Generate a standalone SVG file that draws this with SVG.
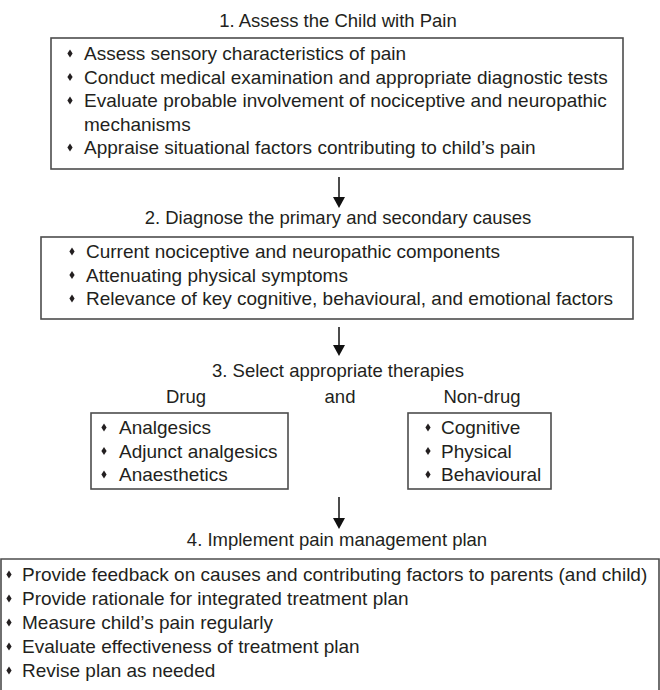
<svg xmlns="http://www.w3.org/2000/svg" xmlns:xlink="http://www.w3.org/1999/xlink" width="660" height="690" viewBox="0 0 660 690">
<defs>
<style>
text{font-family:"Liberation Sans",Arial,Helvetica,sans-serif;font-size:19px;fill:#231f20}
.t{text-anchor:middle;font-size:18.5px}
.box{fill:#fff;stroke:#4d4d4d;stroke-width:1.6}
.conn line{stroke:#111;stroke-width:1.5}
.conn path{fill:#111}
.b{fill:#231f20}
</style>
<path id="dia" d="M0,-4 L2.6,0 L0,4 L-2.6,0 Z"/>
</defs>
<rect width="660" height="690" fill="#fff"/>
<g id="step1">
<text class="t" x="338" y="27">1. Assess the Child with Pain</text>
<rect class="box" x="51" y="38" width="572" height="131"/>
<use class="b" xlink:href="#dia" x="70" y="53.5"/><text x="84" y="60">Assess sensory characteristics of pain</text>
<use class="b" xlink:href="#dia" x="70" y="77"/><text x="84" y="83.5">Conduct medical examination and appropriate diagnostic tests</text>
<use class="b" xlink:href="#dia" x="70" y="100.5"/><text x="84" y="107">Evaluate probable involvement of nociceptive and neuropathic</text>
<text x="84" y="130.5">mechanisms</text>
<use class="b" xlink:href="#dia" x="70" y="147.5"/><text x="84" y="154">Appraise situational factors contributing to child’s pain</text>
</g>
<g id="step2">
<text class="t" x="338" y="224">2. Diagnose the primary and secondary causes</text>
<rect class="box" x="41" y="237" width="592" height="82"/>
<use class="b" xlink:href="#dia" x="72" y="251.5"/><text x="86" y="258">Current nociceptive and neuropathic components</text>
<use class="b" xlink:href="#dia" x="72" y="275"/><text x="86" y="281.5">Attenuating physical symptoms</text>
<use class="b" xlink:href="#dia" x="72" y="298.5"/><text x="86" y="305">Relevance of key cognitive, behavioural, and emotional factors</text>
</g>
<g id="step3">
<text class="t" x="338" y="377">3. Select appropriate therapies</text>
<text class="t" x="340" y="403">and</text>
</g>
<g id="drug">
<text class="t" x="186" y="403">Drug</text>
<rect class="box" x="91" y="413" width="197" height="76"/>
<use class="b" xlink:href="#dia" x="104" y="427.5"/><text x="119" y="434">Analgesics</text>
<use class="b" xlink:href="#dia" x="104" y="451"/><text x="119" y="457.5">Adjunct analgesics</text>
<use class="b" xlink:href="#dia" x="104" y="474.5"/><text x="119" y="481">Anaesthetics</text>
</g>
<g id="nondrug">
<text class="t" x="482" y="403">Non-drug</text>
<rect class="box" x="408" y="413" width="143" height="76"/>
<use class="b" xlink:href="#dia" x="428" y="427.5"/><text x="441" y="434">Cognitive</text>
<use class="b" xlink:href="#dia" x="428" y="451"/><text x="441" y="457.5">Physical</text>
<use class="b" xlink:href="#dia" x="428" y="474.5"/><text x="441" y="481">Behavioural</text>
</g>
<g id="step4">
<text class="t" x="337" y="546">4. Implement pain management plan</text>
<path class="box" d="M1,700 V559 H659 V700"/>
<use class="b" xlink:href="#dia" x="9" y="574.5"/><text x="22" y="581">Provide feedback on causes and contributing factors to parents (and child)</text>
<use class="b" xlink:href="#dia" x="9" y="598.5"/><text x="22" y="605">Provide rationale for integrated treatment plan</text>
<use class="b" xlink:href="#dia" x="9" y="622.5"/><text x="22" y="629">Measure child’s pain regularly</text>
<use class="b" xlink:href="#dia" x="9" y="646.5"/><text x="22" y="653">Evaluate effectiveness of treatment plan</text>
<use class="b" xlink:href="#dia" x="9" y="670.5"/><text x="22" y="677">Revise plan as needed</text>
</g>
<g id="connectors" class="conn">
<line x1="339" y1="177" x2="339" y2="199"/><path d="M333,197 L345,197 L339,208 Z"/>
<line x1="339" y1="327" x2="339" y2="347"/><path d="M333,345 L345,345 L339,356 Z"/>
<line x1="339" y1="497" x2="339" y2="520"/><path d="M333,518 L345,518 L339,529 Z"/>
</g>
</svg>
